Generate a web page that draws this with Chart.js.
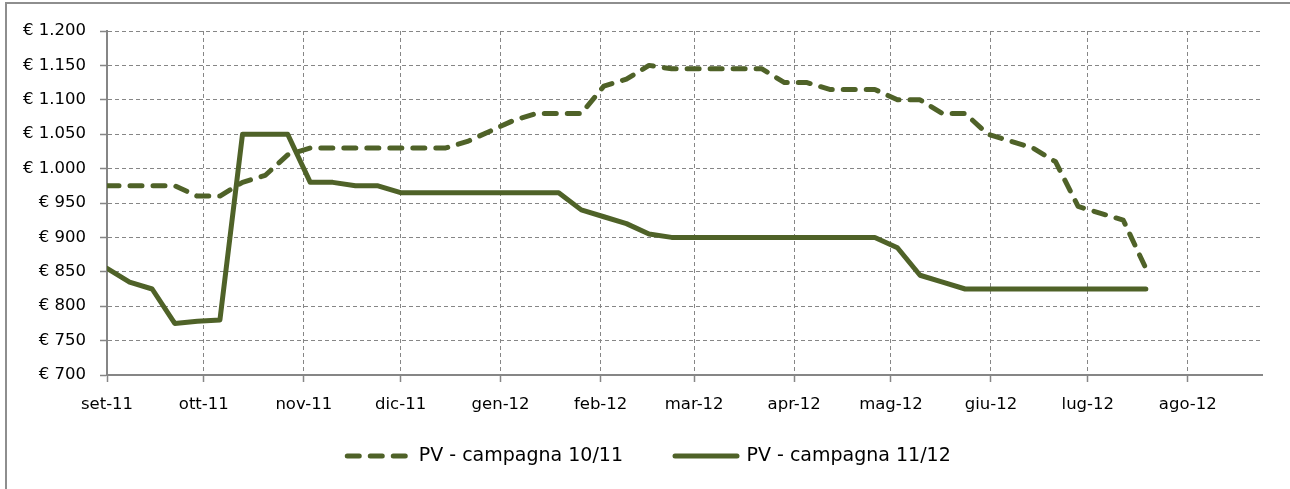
<!DOCTYPE html>
<html>
<head>
<meta charset="utf-8">
<script src="https://cdn.jsdelivr.net/npm/chart.js@4.4.1/dist/chart.umd.min.js"></script>
<style>
  html, body { margin: 0; padding: 0; background: #fff; overflow: hidden; }
  #wrap { position: relative; width: 1290px; height: 489px; }
  #frame {
    position: absolute; left: 5px; top: 2px; width: 1300px; height: 500px;
    border-left: 2px solid #8e8e8e; border-top: 2px solid #8e8e8e;
    pointer-events: none;
  }
</style>
</head>
<body>
<div id="wrap">
  <canvas id="prices"></canvas>
  <div id="frame"></div>
</div>
<script>
// weekly price dates (campaign weeks)
const weekDates = [
  '2011-09-01', '2011-09-08', '2011-09-15', '2011-09-22', '2011-09-29',
  '2011-10-06', '2011-10-13', '2011-10-20', '2011-10-27', '2011-11-03',
  '2011-11-10', '2011-11-17', '2011-11-24', '2011-12-01', '2011-12-08',
  '2011-12-15', '2011-12-22', '2011-12-29', '2012-01-05', '2012-01-12',
  '2012-01-19', '2012-01-26', '2012-02-02', '2012-02-09', '2012-02-16',
  '2012-02-23', '2012-03-01', '2012-03-08', '2012-03-15', '2012-03-22',
  '2012-03-29', '2012-04-05', '2012-04-12', '2012-04-19', '2012-04-26',
  '2012-05-03', '2012-05-10', '2012-05-17', '2012-05-24', '2012-05-31',
  '2012-06-07', '2012-06-14', '2012-06-21', '2012-06-28', '2012-07-05',
  '2012-07-12', '2012-07-19'
];

const pv1011 = [
  975, 975, 975, 975, 960, 960, 980, 990, 1020, 1030,
  1030, 1030, 1030, 1030, 1030, 1030, 1040, 1055, 1070, 1080,
  1080, 1080, 1120, 1130, 1150, 1145, 1145, 1145, 1145, 1145,
  1125, 1125, 1115, 1115, 1115, 1100, 1100, 1080, 1080, 1050,
  1040, 1030, 1010, 945, 935, 925, 855
];

const pv1112 = [
  855, 835, 825, 775, 778, 780, 1050, 1050, 1050, 980,
  980, 975, 975, 965, 965, 965, 965, 965, 965, 965,
  965, 940, 930, 920, 905, 900, 900, 900, 900, 900,
  900, 900, 900, 900, 900, 885, 845, 835, 825, 825,
  825, 825, 825, 825, 825, 825, 825
];

// month ticks on the date axis
const monthDates = [
  '2011-09-01', '2011-10-01', '2011-11-01', '2011-12-01', '2012-01-01', '2012-02-01',
  '2012-03-01', '2012-04-01', '2012-05-01', '2012-06-01', '2012-07-01', '2012-08-01'
];
const monthLabels = [
  'set-11', 'ott-11', 'nov-11', 'dic-11', 'gen-12', 'feb-12',
  'mar-12', 'apr-12', 'mag-12', 'giu-12', 'lug-12', 'ago-12'
];
const axisEndDate = '2012-08-24';

const DAY = 24 * 3600 * 1000;
const startMs = Date.parse(monthDates[0]);
const toDay = (d) => Math.round((Date.parse(d) - startMs) / DAY);

const monthDays = monthDates.map(toDay);
const weekDays = weekDates.map(toDay);

const olive = '#4f6228';
const gridGrey = '#868686';
const AXIS_FONT = { family: "'DejaVu Sans', sans-serif", size: 16.5 };
const LEGEND_FONT = { family: "'DejaVu Sans', sans-serif", size: 19 };

function euro(v) {
  if (v >= 1000) {
    return '€ ' + Math.floor(v / 1000) + '.' + String(v % 1000).padStart(3, '0');
  }
  return '€ ' + v;
}

// the original legend sits a bit right of centre and closer to the axis
const placeLegend = {
  id: 'placeLegend',
  afterLayout(chart) {
    const lg = chart.legend;
    if (!lg) return;
    lg.left += 36;
    lg.top = 394.6;
    lg.bottom = chart.height;
  }
};

const ctx = document.getElementById('prices').getContext('2d');

new Chart(ctx, {
  type: 'line',
  data: {
    datasets: [
      {
        label: 'PV - campagna 10/11',
        data: weekDays.map((d, i) => ({ x: d, y: pv1011[i] })),
        borderColor: olive,
        backgroundColor: olive,
        borderWidth: 5,
        borderDash: [12, 11],
        borderCapStyle: 'round',
        borderJoinStyle: 'round',
        pointRadius: 0,
        tension: 0
      },
      {
        label: 'PV - campagna 11/12',
        data: weekDays.map((d, i) => ({ x: d, y: pv1112[i] })),
        borderColor: olive,
        backgroundColor: olive,
        borderWidth: 5,
        borderCapStyle: 'round',
        borderJoinStyle: 'round',
        pointRadius: 0,
        tension: 0
      }
    ]
  },
  options: {
    responsive: true,
    maintainAspectRatio: false,
    animation: false,
    layout: { padding: { left: 0, right: 28, top: 31, bottom: 14 } },
    plugins: {
      tooltip: { enabled: false },
      legend: {
        position: 'bottom',
        align: 'center',
        maxHeight: 60,
        labels: {
          color: '#000',
          font: LEGEND_FONT,
          usePointStyle: true,
          pointStyle: 'line',
          pointStyleWidth: 62,
          padding: 52,
          // point style legend loses the dash, so copy it from the dataset
          generateLabels: (chart) => {
            const items = Chart.defaults.plugins.legend.labels.generateLabels(chart);
            items.forEach(item => {
              const ds = chart.data.datasets[item.datasetIndex];
              item.lineDash = ds.borderDash || [];
              item.lineCap = 'round';
              item.lineWidth = 5;
            });
            return items;
          }
        }
      }
    },
    scales: {
      x: {
        type: 'linear',
        min: 0,
        max: toDay(axisEndDate),
        afterBuildTicks: (scale) => {
          scale.ticks = monthDays.map(v => ({ value: v }));
        },
        afterFit: (scale) => { scale.height = 40; },
        ticks: {
          color: '#000',
          font: AXIS_FONT,
          padding: 13,
          maxRotation: 0,
          autoSkip: false,
          callback: (v) => monthLabels[monthDays.indexOf(v)]
        },
        grid: {
          color: gridGrey,
          lineWidth: 1,
          tickLength: 7,
          tickColor: gridGrey,
          tickWidth: 1.5
        },
        border: { display: true, color: gridGrey, width: 2, dash: [4, 3] }
      },
      y: {
        min: 700,
        max: 1200,
        afterFit: (scale) => { scale.width = 107; },
        ticks: {
          stepSize: 50,
          color: '#000',
          font: AXIS_FONT,
          padding: 14,
          callback: (v) => euro(v)
        },
        grid: {
          color: gridGrey,
          lineWidth: 1,
          tickLength: 7,
          tickColor: gridGrey,
          tickWidth: 1.5
        },
        border: { display: true, color: gridGrey, width: 2, dash: [4, 3] }
      }
    }
  },
  plugins: [placeLegend]
});
</script>
</body>
</html>
